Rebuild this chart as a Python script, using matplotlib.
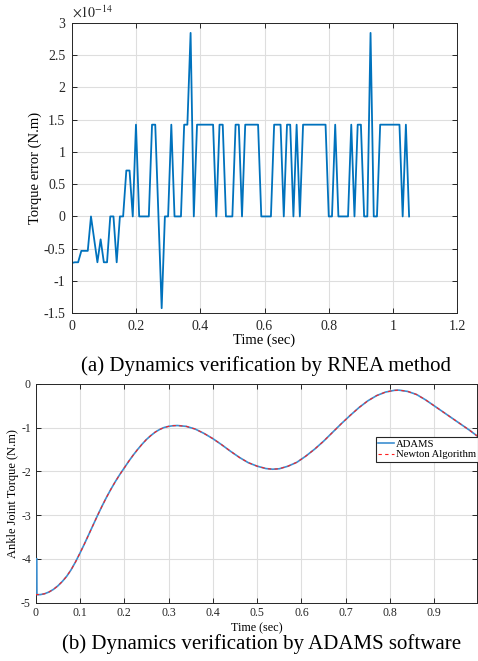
import numpy as np
import matplotlib
matplotlib.use("Agg")
import matplotlib.pyplot as plt

plt.rcParams['font.family'] = ['Liberation Serif', 'DejaVu Serif']
plt.rcParams['mathtext.fontset'] = 'stix'
plt.rcParams['axes.unicode_minus'] = False

# (a) torque error, units of 1e-14, sampled every 0.01 s
err_vals = [-0.72, -0.71, -0.71, -0.533, -0.533, -0.533, 0, -0.355, -0.71, -0.355,
            -0.71, -0.71, 0, 0, -0.71, 0, 0, 0.711, 0.711, 0,
            1.421, 0, 0, 0, 0, 1.421, 1.421, 0, -1.421, 0,
            0, 1.421, 0, 0, 0, 1.421, 1.421, 2.842, 0, 1.421,
            1.421, 1.421, 1.421, 1.421, 1.421, 0, 1.421, 1.421, 0, 0,
            0, 1.421, 1.421, 0, 1.421, 1.421, 1.421, 1.421, 1.421, 0,
            0, 0, 0, 1.421, 1.421, 1.421, 0, 1.421, 1.421, 0,
            1.421, 0, 1.421, 1.421, 1.421, 1.421, 1.421, 1.421, 1.421, 1.421,
            0, 0, 1.421, 0, 0, 0, 0, 1.421, 0, 1.421,
            1.421, 0, 0, 2.842, 0, 0, 1.421, 1.421, 1.421, 1.421,
            1.421, 1.421, 1.421, 0, 1.421, 0]
err_time = np.round(np.arange(len(err_vals)) * 0.01, 2)

# (b) ankle joint torque
spike_time = [0.0025, 0.0028]
spike_torque = [-4.0, -4.82]
time_b = [0.00, 0.01, 0.02, 0.03, 0.04, 0.05, 0.06, 0.07, 0.08, 0.09,
          0.10, 0.11, 0.12, 0.13, 0.14, 0.15, 0.16, 0.17, 0.18, 0.19,
          0.20, 0.21, 0.22, 0.23, 0.24, 0.25, 0.26, 0.27, 0.28, 0.29,
          0.30, 0.31, 0.32, 0.34, 0.36, 0.38, 0.40, 0.42, 0.44, 0.46,
          0.48, 0.50, 0.52, 0.535, 0.55, 0.57, 0.59, 0.61, 0.63, 0.65,
          0.67, 0.69, 0.71, 0.73, 0.75, 0.77, 0.79, 0.81, 0.82, 0.84,
          0.86, 0.88, 0.90, 0.92, 0.94, 0.96, 0.98, 0.997]
torque_b = [-4.82, -4.82, -4.80, -4.76, -4.70, -4.62, -4.52, -4.40, -4.25, -4.07,
            -3.87, -3.66, -3.44, -3.22, -3.00, -2.79, -2.59, -2.405, -2.23, -2.07,
            -1.92, -1.77, -1.63, -1.50, -1.38, -1.27, -1.18, -1.10, -1.04, -0.995,
            -0.97, -0.955, -0.95, -0.97, -1.03, -1.13, -1.25, -1.39, -1.54, -1.68,
            -1.80, -1.88, -1.935, -1.95, -1.94, -1.88, -1.79, -1.65, -1.49, -1.31,
            -1.11, -0.91, -0.72, -0.54, -0.385, -0.265, -0.185, -0.145, -0.14, -0.17,
            -0.24, -0.36, -0.50, -0.64, -0.78, -0.92, -1.06, -1.19]

W, H = 478, 661
fig = plt.figure(figsize=(W / 100, H / 100), dpi=100)

def style(ax, fs, pad):
    ax.grid(True, color='#dedede', linewidth=0.8)
    ax.set_axisbelow(True)
    ax.tick_params(direction='in', top=True, right=True, length=3.5, width=0.7,
                   labelsize=fs, colors='#262626', pad=pad)
    for s in ax.spines.values():
        s.set_color('#262626')
        s.set_linewidth(0.7)

# ---- (a)
ax1 = fig.add_axes([71.7 / W, 1 - 313.3 / H, 385.6 / W, 290.6 / H])
ax1.plot(err_time, err_vals, color='#0072BD', linewidth=1.3)
ax1.set_xlim(0, 1.2)
ax1.set_ylim(-1.5, 3)
ax1.set_xticks([0, 0.2, 0.4, 0.6, 0.8, 1.0, 1.2])
ax1.set_xticklabels(['0', '0.2', '0.4', '0.6', '0.8', '1', '1.2'])
ax1.set_yticks([-1.5, -1, -0.5, 0, 0.5, 1, 1.5, 2, 2.5, 3])
ax1.set_yticklabels(['-1.5', '-1', '-0.5', '0', '0.5', '1', '1.5', '2', '2.5', '3'])
style(ax1, 10, 4.5)
ax1.set_xlabel('Time (sec)', fontsize=10.5, labelpad=1)
ax1.set_ylabel('Torque error (N.m)', fontsize=10.5, labelpad=1)
ax1.text(0.0, 1.008, r'$\times 10^{-14}$', transform=ax1.transAxes, ha='left',
         va='bottom', fontsize=10, color='#262626')
fig.text(266 / W, 1 - 366 / H, '(a) Dynamics verification by RNEA method',
         ha='center', va='center', fontsize=15)

# ---- (b)
ax2 = fig.add_axes([35.7 / W, 1 - 602.5 / H, 441.5 / W, 218.5 / H])
ax2.plot(spike_time + time_b[1:], spike_torque + torque_b[1:], color='#3d8fd1',
         linewidth=1.2, label='ADAMS', zorder=3)
ax2.plot(time_b, torque_b, color='#ff2020', linewidth=0.8, linestyle=(0, (3, 3)),
         label='Newton Algorithm', zorder=3)
ax2.set_xlim(0, 0.997)
ax2.set_ylim(-5, 0)
ax2.set_xticks([0, 0.1, 0.2, 0.3, 0.4, 0.5, 0.6, 0.7, 0.8, 0.9])
ax2.set_xticklabels(['0', '0.1', '0.2', '0.3', '0.4', '0.5', '0.6', '0.7', '0.8', '0.9'])
ax2.set_yticks([-5, -4, -3, -2, -1, 0])
ax2.set_yticklabels(['-5', '-4', '-3', '-2', '-1', '0'])
style(ax2, 8.5, 3.5)
ax2.set_xlabel('Time (sec)', fontsize=8.7, labelpad=2)
ax2.set_ylabel('Ankle Joint Torque (N.m)', fontsize=9, labelpad=1.5)
leg = ax2.legend(loc='upper left', bbox_to_anchor=(0.770, 0.756), borderaxespad=0,
                 fontsize=7.7, handlelength=1.5, handletextpad=0.2, borderpad=0.2,
                 labelspacing=0.1, fancybox=False, framealpha=1)
leg.set_zorder(5)
leg.get_frame().set_edgecolor('#262626')
leg.get_frame().set_linewidth(0.8)
fig.text(262 / W, 1 - 644 / H, '(b) Dynamics verification by ADAMS software',
         ha='center', va='center', fontsize=15)

fig.savefig('out.png', dpi=100)
